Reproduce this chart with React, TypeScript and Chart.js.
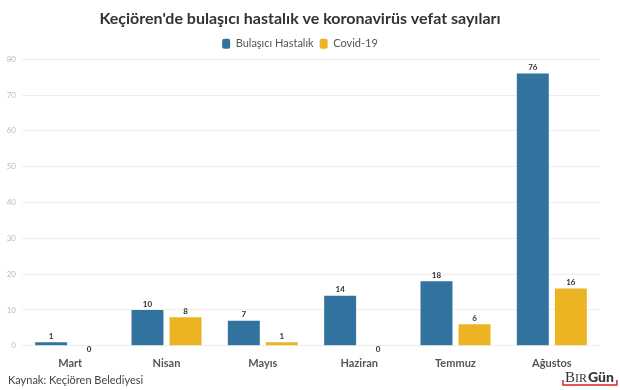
import React, { useEffect, useRef } from "react";
import { Chart, registerables } from "chart.js";

Chart.register(...registerables);

const categories = ["Mart", "Nisan", "Mayıs", "Haziran", "Temmuz", "Ağustos"];
const bulasiciValues = [1, 10, 7, 14, 18, 76];
const covidValues = [0, 8, 1, 0, 6, 16];
const seriesNames = ["Bulaşıcı Hastalık", "Covid-19"];
const titleText = "Keçiören'de bulaşıcı hastalık ve koronavirüs vefat sayıları";
const sourceText = "Kaynak: Keçiören Belediyesi";

const FONT = "Lato, 'Open Sans', sans-serif";

const labelsPlugin = {
  id: "valueLabels",
  afterDatasetsDraw(chart: any) {
    const ctx = chart.ctx;
    const base = chart.scales.y.getPixelForValue(0);
    ctx.save();
    ctx.font = `bold 8px ${FONT}`;
    ctx.fillStyle = "#333";
    ctx.textAlign = "center";
    chart.data.datasets.forEach((ds: any, i: number) => {
      const meta = chart.getDatasetMeta(i);
      meta.data.forEach((el: any, j: number) => {
        const v = ds.data[j];
        if (v === 0) {
          ctx.textBaseline = "middle";
          ctx.fillText(String(v), el.x, base + 4);
        } else {
          ctx.textBaseline = "bottom";
          ctx.fillText(String(v), el.x, el.y - 2);
        }
      });
    });
    ctx.restore();
  },
};

const footerPlugin = {
  id: "footer",
  afterDraw(chart: any) {
    const ctx = chart.ctx;
    ctx.save();
    ctx.font = `11px ${FONT}`;
    ctx.fillStyle = "#444";
    ctx.textAlign = "left";
    ctx.textBaseline = "alphabetic";
    ctx.fillText(sourceText, 8, 384);
    // logo
    const x0 = 563;
    const yb = 382;
    ctx.font = "15px 'Liberation Serif', serif";
    ctx.fillStyle = "#333";
    ctx.fillText("B", x0 + 2, yb);
    let w = ctx.measureText("B").width;
    ctx.font = "12px 'Liberation Serif', serif";
    ctx.fillText("IR", x0 + 2 + w, yb);
    w += ctx.measureText("IR").width;
    ctx.font = `900 14px ${FONT}`;
    ctx.fillText("Gün", x0 + 3 + w, yb);
    w += ctx.measureText("Gün").width + 3;
    ctx.strokeStyle = "#d22";
    ctx.lineWidth = 1.5;
    ctx.beginPath();
    ctx.moveTo(x0, yb - 2);
    ctx.lineTo(x0, yb + 3);
    ctx.lineTo(x0 + w + 3, yb + 3);
    ctx.lineTo(x0 + w + 3, yb - 2);
    ctx.stroke();
    ctx.restore();
  },
};

export default function App() {
  const ref = useRef<HTMLCanvasElement>(null);
  useEffect(() => {
    document.body.style.margin = "0";
    const chart = new Chart(ref.current!, {
      type: "bar",
      data: {
        labels: categories,
        datasets: [
          {
            label: seriesNames[0],
            data: bulasiciValues,
            backgroundColor: "#31729f",
            categoryPercentage: 0.79,
            barPercentage: 0.84,
          },
          {
            label: seriesNames[1],
            data: covidValues,
            backgroundColor: "#ecb422",
            categoryPercentage: 0.79,
            barPercentage: 0.84,
          },
        ],
      },
      options: {
        responsive: false,
        animation: false,
        layout: { padding: { top: 0, right: 20, bottom: 17, left: 0 } },
        plugins: {
          title: {
            display: true,
            text: titleText,
            color: "#333",
            font: { family: FONT, size: 16, weight: "bold" },
            padding: { top: 9, bottom: 4 },
          },
          legend: {
            display: true,
            labels: {
              boxWidth: 8,
              boxHeight: 10,
              color: "#555",
              font: { family: FONT, size: 11 },
              padding: 6,
              useBorderRadius: true,
              borderRadius: 2,
            },
          },
          tooltip: { enabled: false },
        },
        scales: {
          x: {
            grid: { display: false },
            border: { display: false },
            ticks: {
              color: "#555",
              font: { family: FONT, size: 11, weight: "bold" },
              padding: 3,
            },
          },
          y: {
            min: 0,
            max: 80,
            afterFit(scale: any) {
              scale.width = 22;
            },
            ticks: {
              stepSize: 10,
              color: "#bbb",
              font: { family: FONT, size: 8 },
              padding: 6,
            },
            grid: { color: "#eeeeee", drawTicks: false },
            border: { display: false },
          },
        },
      },
      plugins: [labelsPlugin, footerPlugin],
    });
    return () => chart.destroy();
  }, []);
  return (
    <div style={{ width: 620, height: 390 }}>
      <canvas ref={ref} width={620} height={390} />
    </div>
  );
}
